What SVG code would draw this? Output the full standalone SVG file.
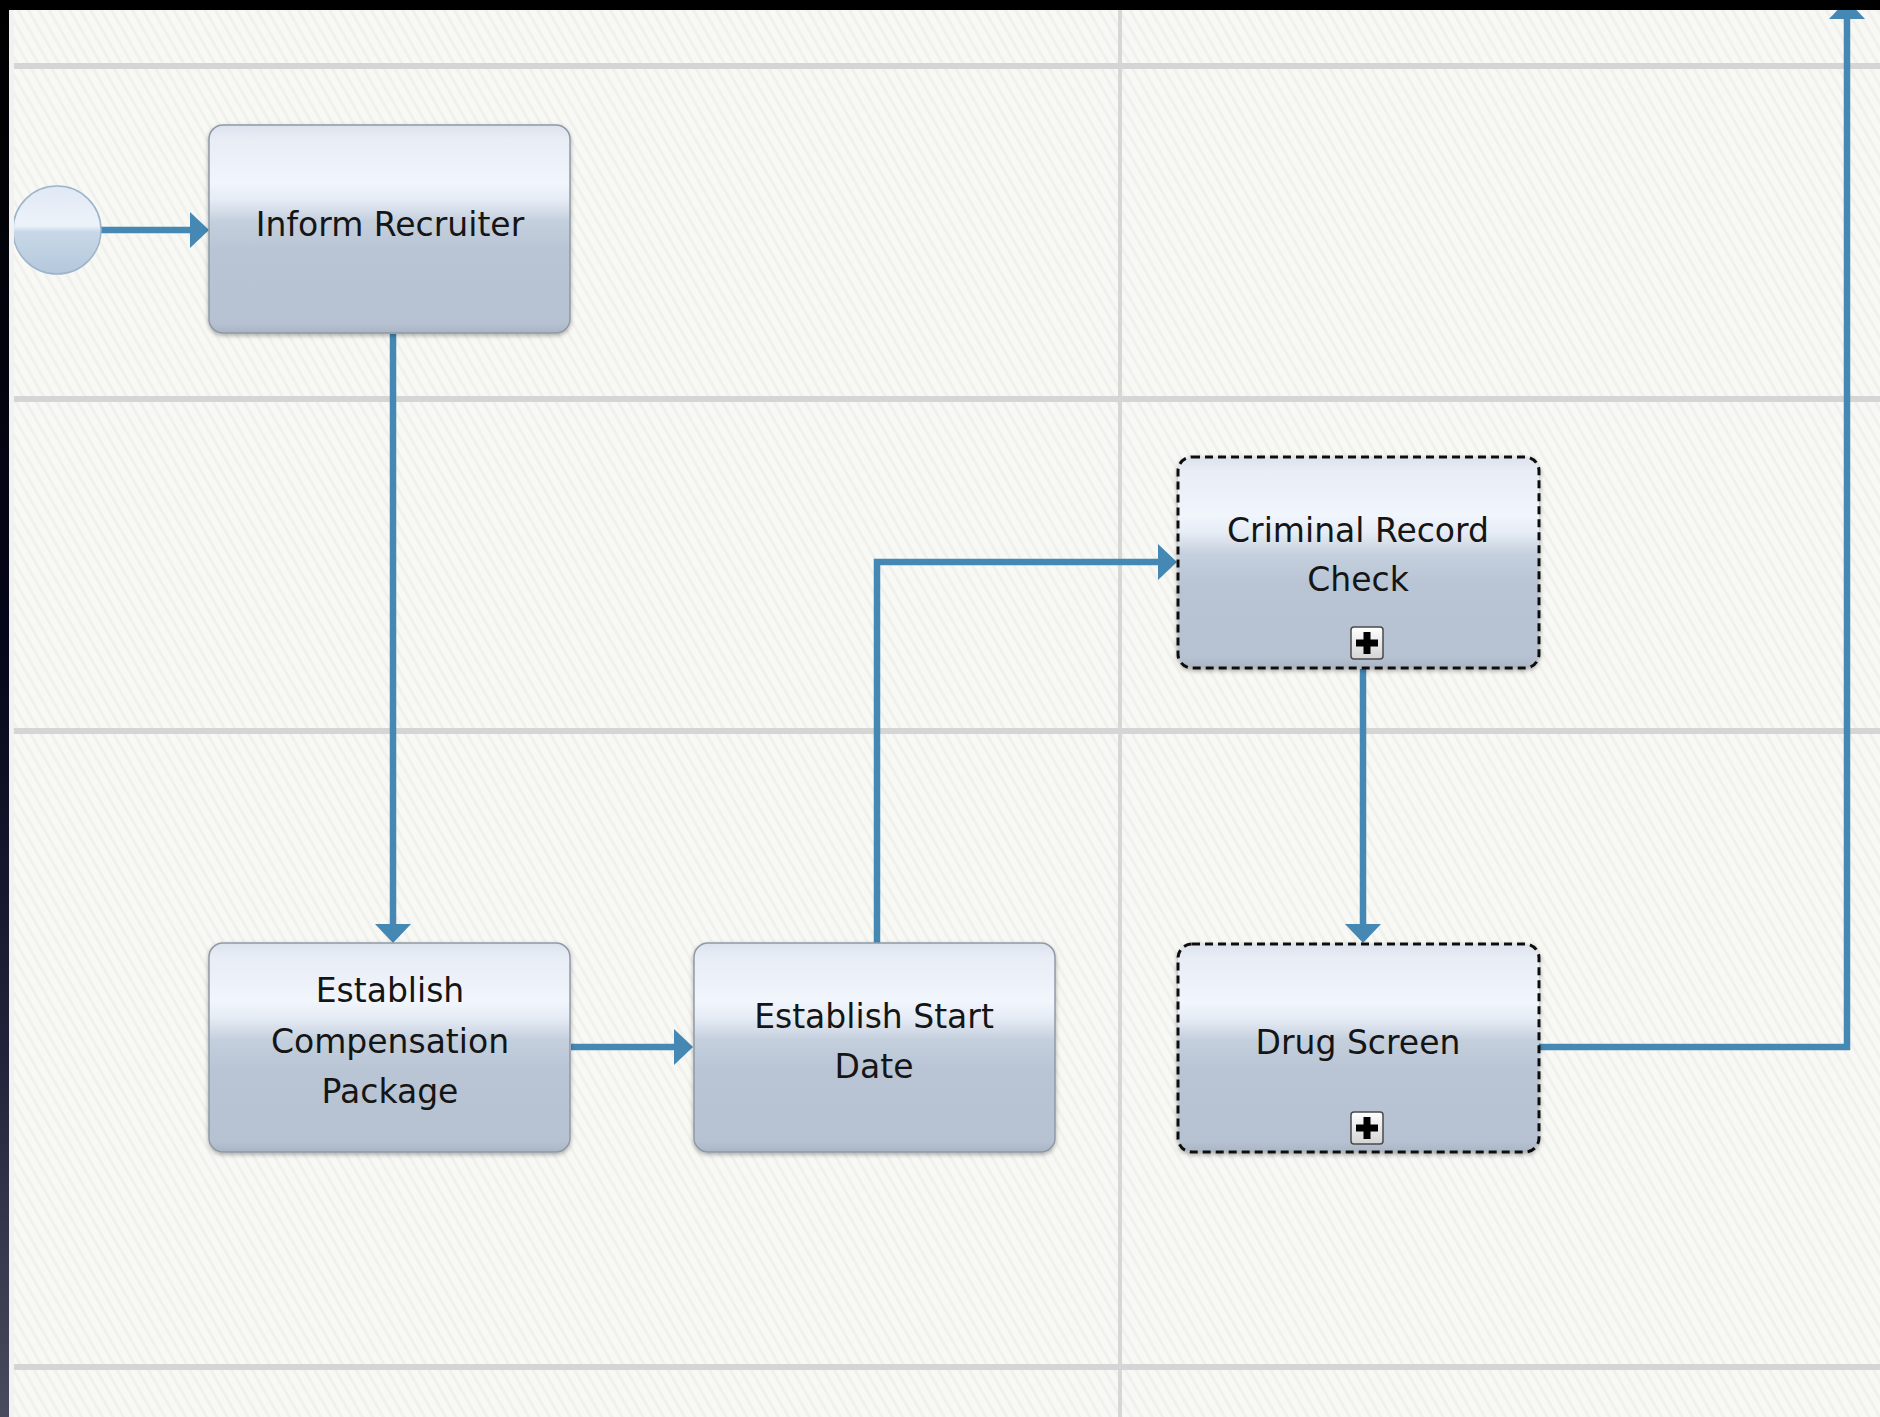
<svg xmlns="http://www.w3.org/2000/svg" width="1880" height="1417" viewBox="0 0 1880 1417">
<style>
.lane{stroke:#d5d5d5;stroke-width:6;fill:none}
.vlane{stroke:#d7d7d7;stroke-width:4;fill:none}
.task{fill:url(#taskGrad);stroke:#8f99a6;stroke-width:1.5;filter:url(#shadow)}
.sub{fill:url(#taskGrad);stroke:#111;stroke-width:3;stroke-dasharray:8 5;filter:url(#shadow)}
.lbl{font-family:"DejaVu Sans","Liberation Sans",sans-serif;font-size:33px;fill:#151515;text-anchor:middle}
.conn{stroke:#4588b3;stroke-width:6.5;fill:none;marker-end:url(#arrow)}
.pbox{fill:url(#plusGrad);stroke:#4a4a4a;stroke-width:1.5}
.pl{fill:#000}
</style>
<defs>
<pattern id="stripes" width="9" height="9" patternUnits="userSpaceOnUse" patternTransform="rotate(-30)">
<rect width="9" height="9" fill="#f8f8f5"/>
<rect width="3" height="9" fill="#f0f0ec"/>
</pattern>
<linearGradient id="taskGrad" x1="0" y1="0" x2="0" y2="1">
<stop offset="0" stop-color="#dde3ed"/>
<stop offset="0.07" stop-color="#e8edf6"/>
<stop offset="0.28" stop-color="#f1f5fc"/>
<stop offset="0.36" stop-color="#e6ecf5"/>
<stop offset="0.46" stop-color="#c5d0de"/>
<stop offset="0.6" stop-color="#b9c5d5"/>
<stop offset="0.95" stop-color="#b6c2d2"/>
<stop offset="1" stop-color="#aab5c4"/>
</linearGradient>
<linearGradient id="circGrad" x1="0" y1="0" x2="0" y2="1">
<stop offset="0" stop-color="#dfe8f4"/>
<stop offset="0.45" stop-color="#eef3fa"/>
<stop offset="0.52" stop-color="#c9d8e8"/>
<stop offset="1" stop-color="#b4c8dc"/>
</linearGradient>
<linearGradient id="plusGrad" x1="0" y1="0" x2="0" y2="1">
<stop offset="0" stop-color="#ffffff"/>
<stop offset="1" stop-color="#d4d4d4"/>
</linearGradient>
<linearGradient id="leftEdge" x1="0" y1="0" x2="0" y2="1">
<stop offset="0" stop-color="#000"/>
<stop offset="0.45" stop-color="#06061a"/>
<stop offset="0.75" stop-color="#23233b"/>
<stop offset="1" stop-color="#4a4a5e"/>
</linearGradient>
<filter id="shadow" x="-10%" y="-10%" width="120%" height="125%">
<feDropShadow dx="0" dy="2" stdDeviation="2" flood-color="#000" flood-opacity="0.3"/>
</filter>
<marker id="arrow" markerUnits="userSpaceOnUse" markerWidth="22" markerHeight="38" refX="11" refY="18" orient="auto">
<path d="M0,0 L19,18 L0,36 z" fill="#4588b3"/>
</marker>
</defs>

<g id="background">
<rect x="0" y="0" width="1880" height="1417" fill="url(#stripes)"/>
<line class="vlane" x1="1120" y1="10" x2="1120" y2="1417"/>
<line class="lane" x1="14" y1="66" x2="1880" y2="66"/>
<line class="lane" x1="14" y1="399" x2="1880" y2="399"/>
<line class="lane" x1="14" y1="731" x2="1880" y2="731"/>
<line class="lane" x1="14" y1="1367" x2="1880" y2="1367"/>
</g>

<g id="connectors">
<path class="conn" d="M101,230 H201"/>
<path class="conn" d="M393,334 V935"/>
<path class="conn" d="M571,1047 H685"/>
<path class="conn" d="M877,943 V562 H1169"/>
<path class="conn" d="M1363,669 V935"/>
<path class="conn" d="M1539,1047 H1847 V8"/>
</g>

<g id="start">
<circle cx="57" cy="230" r="44" fill="url(#circGrad)" stroke="#9db5cc" stroke-width="1.5"/>
</g>

<g id="inform-recruiter">
<rect class="task" x="209" y="125" width="361" height="208" rx="14"/>
<text class="lbl" x="390" y="236">Inform Recruiter</text>
</g>

<g id="criminal-record-check">
<rect class="sub" x="1178" y="457" width="361" height="211" rx="14"/>
<text class="lbl" x="1358" y="542">Criminal Record</text>
<text class="lbl" x="1358" y="591">Check</text>
<rect class="pbox" x="1351" y="627" width="32" height="32" rx="3"/>
<rect class="pl" x="1363.5" y="632" width="7" height="22"/>
<rect class="pl" x="1356" y="639.5" width="22" height="7"/>
</g>

<g id="establish-compensation-package">
<rect class="task" x="209" y="943" width="361" height="209" rx="14"/>
<text class="lbl" x="390" y="1002">Establish</text>
<text class="lbl" x="390" y="1053">Compensation</text>
<text class="lbl" x="390" y="1103">Package</text>
</g>

<g id="establish-start-date">
<rect class="task" x="694" y="943" width="361" height="209" rx="14"/>
<text class="lbl" x="874" y="1028">Establish Start</text>
<text class="lbl" x="874" y="1078">Date</text>
</g>

<g id="drug-screen">
<rect class="sub" x="1178" y="944" width="361" height="208" rx="14"/>
<text class="lbl" x="1358" y="1054">Drug Screen</text>
<rect class="pbox" x="1351" y="1112" width="32" height="32" rx="3"/>
<rect class="pl" x="1363.5" y="1117" width="7" height="22"/>
<rect class="pl" x="1356" y="1124.5" width="22" height="7"/>
</g>

<g id="frame">
<rect x="9" y="0" width="5" height="1417" fill="#f2f2f2"/>
<rect x="0" y="0" width="1880" height="10" fill="#000"/>
<rect x="0" y="0" width="9" height="1417" fill="url(#leftEdge)"/>
</g>
</svg>
